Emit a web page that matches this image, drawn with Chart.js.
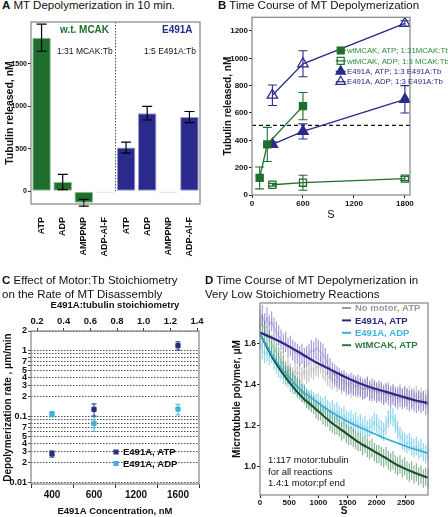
<!DOCTYPE html>
<html>
<head>
<meta charset="utf-8">
<script src="https://cdn.jsdelivr.net/npm/chart.js@4.4.1/dist/chart.umd.min.js"></script>
<style>
  body { margin: 0; width: 448px; height: 517px; position: relative; overflow: hidden; background: #fff;
         font-family: "Liberation Sans", Arial, sans-serif; }
  canvas { position: absolute; }
  .t { position: absolute; white-space: nowrap; color: #111; line-height: 1; z-index: 2; }
</style>
</head>
<body>
<div class="t" style="left:2px;top:0px;font-size:11.5px"><b>A</b> MT Depolymerization in 10 min.</div>
<div class="t" style="left:218px;top:0px;font-size:11.5px"><b>B</b> Time Course of MT Depolymerization</div>
<div class="t" style="left:2px;top:273px;font-size:11.5px;line-height:14px"><b>C</b> Effect of Motor:Tb Stoichiometry<br>on the Rate of MT Disassembly</div>
<div class="t" style="left:205px;top:273px;font-size:11.5px;line-height:14px"><b>D</b> Time Course of MT Depolymerization in<br>Very Low Stoichiometry Reactions</div>

<div class="t" style="left:60px;top:25px;font-size:10px;font-weight:bold;color:#1f6e2d">w.t. MCAK</div>
<div class="t" style="left:162px;top:25px;font-size:10px;font-weight:bold;color:#2a2a8c">E491A</div>
<div class="t" style="left:57px;top:47px;font-size:8.5px">1:31 MCAK:Tb</div>
<div class="t" style="left:144px;top:47px;font-size:8.5px">1:5 E491A:Tb</div>

<div class="t" style="left:268px;top:454px;font-size:9.5px;line-height:11.5px">1:117 motor:tubulin<br>for all reactions<br>1.4:1 motor:pf end</div>

<canvas id="cA" width="206" height="250" style="left:0;top:14px"></canvas>
<canvas id="cB" width="230" height="212" style="left:218px;top:10px"></canvas>
<canvas id="cC" width="206" height="217" style="left:0;top:300px"></canvas>
<canvas id="cD" width="224" height="221" style="left:224px;top:296px"></canvas>

<script>
// ---------- A: tubulin released after 10 min
const catA = ['ATP', 'ADP', 'AMPPNP', 'ADP-Al-F', 'ATP', 'ADP', 'AMPPNP', 'ADP-Al-F'];
const relA = [1810, 110, -135, -15, 515, 920, -15, 875];
const errA = [160, 90, 40, 0, 65, 80, 0, 65];

// ---------- B: time course (s, nM)
const tB_wtATP = [90, 180, 600];
const relB_wtATP = [125, 370, 650];
const errB_wtATP = [80, 125, 100];
const tB_wtADP = [240, 600, 1800];
const relB_wtADP = [75, 90, 120];
const errB_wtADP = [10, 55, 15];
const tB_eATP = [240, 600, 1800];
const relB_eATP = [370, 465, 700];
const errB_eATP = [20, 55, 100];
const tB_eADP = [240, 600, 1800];
const relB_eADP = [730, 960, 1255];
const errB_eADP = [75, 95, 20];
const halfB = 510;

// ---------- C: rate vs concentration (log axis)
const catC = ['400', '600', '1200', '1600'];
const rateATP = [0.0275, 0.13, null, 1.2];
const errRateATP = [0.003, 0.027, null, 0.17];
const rateADP = [0.11, 0.08, null, 0.131];
const errRateADP = [0.01, 0.02, null, 0.024];
const ticksC = [0.01, 0.02, 0.03, 0.04, 0.05, 0.06, 0.07, 0.08, 0.09, 0.1, 0.2, 0.3, 0.4, 0.5, 0.6, 0.7, 0.8, 0.9, 1, 2];
const tickLabC = ['0.01', '2', '3', '4', '5', '', '7', '', '', '0.1', '2', '3', '4', '5', '', '7', '', '', '1', '2'];

// ---------- D: low stoichiometry time course (s, uM)
const tD = [0, 40, 80, 120, 160, 200, 240, 280, 320, 360,
  400, 440, 480, 520, 560, 600, 640, 680, 720, 760,
  800, 840, 880, 920, 960, 1000, 1040, 1080, 1120, 1160,
  1200, 1240, 1280, 1320, 1360, 1400, 1440, 1480, 1520, 1560,
  1600, 1640, 1680, 1720, 1760, 1800, 1840, 1880, 1920, 1960,
  2000, 2040, 2080, 2120, 2160, 2200, 2240, 2280, 2320, 2360,
  2400, 2440, 2480, 2520, 2560, 2600, 2640, 2680, 2720, 2760,
  2800, 2840, 2880];
const noMotor = [null, null, null, null, null, null, null, null, null, null,
  1.47, 1.45, 1.48, 1.46, 1.44, 1.47, 1.45, 1.46, 1.44, 1.47,
  1.45, 1.46, 1.48, 1.47, 1.49, 1.48, 1.50, 1.47, 1.46, 1.44,
  1.43, 1.42, 1.43, 1.41, 1.42, 1.40, 1.41, 1.39, 1.40, 1.38,
  1.39, 1.40, 1.38, 1.39, 1.37, 1.38, 1.39, 1.37, 1.36, 1.38,
  1.37, 1.36, 1.37, 1.35, 1.36, 1.37, 1.35, 1.36, 1.34, 1.35,
  1.36, 1.34, 1.35, 1.34, 1.35, 1.33, 1.34, 1.35, 1.33, 1.34,
  1.32, 1.33, 1.34];
const e491aATP = [1.72, 1.74, 1.70, 1.73, 1.69, 1.71, 1.68, 1.66, 1.64, 1.62,
  1.60, 1.61, 1.58, 1.59, 1.57, 1.56, 1.55, 1.54, 1.55, 1.53,
  1.54, 1.55, 1.57, 1.56, 1.58, 1.57, 1.56, 1.55, 1.53, 1.50,
  1.48, 1.46, 1.45, 1.44, 1.43, 1.42, 1.42, 1.41, 1.40, 1.41,
  1.40, 1.39, 1.40, 1.39, 1.38, 1.38, 1.39, 1.37, 1.38, 1.37,
  1.36, 1.37, 1.36, 1.35, 1.36, 1.35, 1.34, 1.35, 1.34, 1.33,
  1.34, 1.33, 1.34, 1.33, 1.32, 1.33, 1.32, 1.31, 1.32, 1.31,
  1.32, 1.30, 1.31];
const e491aADP = [1.62, 1.57, 1.55, 1.56, 1.54, 1.55, 1.52, 1.50, 1.48, 1.47,
  1.45, 1.44, 1.43, 1.41, 1.40, 1.40, 1.38, 1.37, 1.36, 1.36,
  1.34, 1.33, 1.33, 1.32, 1.31, 1.31, 1.30, 1.29, 1.30, 1.28,
  1.27, 1.28, 1.26, 1.27, 1.25, 1.24, 1.25, 1.23, 1.22, 1.23,
  1.21, 1.22, 1.20, 1.21, 1.19, 1.20, 1.18, 1.19, 1.20, 1.22,
  1.21, 1.19, 1.18, 1.17, 1.20, 1.23, 1.25, 1.24, 1.21, 1.18,
  1.15, 1.13, 1.12, 1.11, 1.12, 1.10, 1.09, 1.10, 1.08, 1.09,
  1.07, 1.06, 1.07];
const wtATP = [1.68, 1.70, 1.66, 1.64, 1.62, 1.60, 1.58, 1.56, 1.54, 1.52,
  1.50, 1.47, 1.45, 1.44, 1.42, 1.40, 1.39, 1.38, 1.36, 1.35,
  1.33, 1.32, 1.31, 1.30, 1.28, 1.27, 1.27, 1.25, 1.24, 1.24,
  1.22, 1.21, 1.20, 1.20, 1.19, 1.17, 1.18, 1.16, 1.15, 1.15,
  1.14, 1.13, 1.12, 1.12, 1.10, 1.11, 1.09, 1.08, 1.09, 1.07,
  1.06, 1.06, 1.05, 1.04, 1.05, 1.03, 1.02, 1.03, 1.01, 1.00,
  1.01, 0.99, 1.00, 0.98, 0.97, 0.98, 0.96, 0.97, 0.95, 0.96,
  0.94, 0.95, 0.94];
const semD = [0.045, 0.05, 0.045, 0.045]; // noMotor, E491A ATP, E491A ADP, wtMCAK

// fitted curves, read at these times
const tFit = [0, 240, 480, 720, 960, 1200, 1440, 1680, 1920, 2160, 2400, 2640, 2880];
const fitE491aATP = [1.655, 1.625, 1.59, 1.55, 1.51, 1.475, 1.44, 1.41, 1.385, 1.365, 1.345, 1.325, 1.31];
const fitE491aADP = [1.65, 1.53, 1.44, 1.37, 1.32, 1.27, 1.23, 1.195, 1.165, 1.135, 1.11, 1.085, 1.065];
const fitWtATP = [1.65, 1.52, 1.42, 1.34, 1.28, 1.22, 1.17, 1.12, 1.08, 1.04, 1.00, 0.97, 0.945];

const FONT = 'Liberation Sans';
Chart.defaults.font.family = FONT;
Chart.defaults.color = '#111';
Chart.defaults.animation = false;

const GREEN = '#1f6e2d';
const NAVY = '#2a2a8c';

const pts = (xs, ys) => xs.map((x, i) => ({ x: x, y: ys[i] }));
const bold = s => ({ family: FONT, size: s, weight: 'bold' });
const plain = v => String(v);

// error bars from ds.err, drawn in z order
const errBars = {
  id: 'errBars',
  beforeDatasetsDraw(chart) { if (!chart.$errAfter) drawErr(chart); },
  afterDatasetsDraw(chart) { if (chart.$errAfter) drawErr(chart); }
};
function drawErr(chart) {
  const ctx = chart.ctx;
  const sets = chart.data.datasets;
  for (let di = sets.length - 1; di >= 0; di--) {
    const ds = sets[di];
    if (ds.err == null) continue;
    const meta = chart.getDatasetMeta(di);
    const ys = chart.scales[meta.yAxisID];
    ctx.save();
    ctx.strokeStyle = ds.errColor;
    ctx.lineWidth = ds.errWidth || 1;
    meta.data.forEach((el, i) => {
      const raw = ds.data[i];
      const v = raw !== null && typeof raw === 'object' ? raw.y : raw;
      const e = Array.isArray(ds.err) ? ds.err[i] : ds.err;
      if (v == null || !e) return;
      const x = el.x, y1 = ys.getPixelForValue(v + e), y2 = ys.getPixelForValue(v - e);
      const c = ds.capW || 0;
      ctx.beginPath();
      ctx.moveTo(x, y1); ctx.lineTo(x, y2);
      if (c) {
        ctx.moveTo(x - c, y1); ctx.lineTo(x + c, y1);
        ctx.moveTo(x - c, y2); ctx.lineTo(x + c, y2);
      }
      ctx.stroke();
    });
    ctx.restore();
  }
}

// grey frame round the plot area
const frame = {
  id: 'frame',
  afterDraw(chart) {
    const { left, top, right, bottom } = chart.chartArea;
    const ctx = chart.ctx;
    ctx.save();
    ctx.strokeStyle = '#8c8c8c';
    ctx.lineWidth = 1.3;
    ctx.strokeRect(left, top, right - left, bottom - top);
    ctx.restore();
  }
};

function mark(ctx, style, x, y, r, fill) {
  ctx.beginPath();
  if (style === 'rect') ctx.rect(x - r, y - r, 2 * r, 2 * r);
  else { ctx.moveTo(x, y - r); ctx.lineTo(x + r * 0.87, y + r * 0.5); ctx.lineTo(x - r * 0.87, y + r * 0.5); ctx.closePath(); }
  if (fill) ctx.fill();
  ctx.stroke();
}

function legendPlugin(cfg) {
  return {
    id: 'lg' + cfg.id,
    afterDraw(chart) {
      const ctx = chart.ctx;
      ctx.save();
      ctx.font = cfg.font;
      ctx.textBaseline = 'middle';
      cfg.items.forEach((it, i) => {
        const y = cfg.y + i * cfg.dy;
        ctx.strokeStyle = it.color;
        ctx.fillStyle = it.color;
        ctx.lineWidth = it.lw || 1.2;
        if (cfg.lineLen) {
          ctx.beginPath();
          ctx.moveTo(cfg.x - cfg.lineLen / 2, y); ctx.lineTo(cfg.x + cfg.lineLen / 2, y);
          ctx.stroke();
        }
        if (it.style) mark(ctx, it.style, cfg.x, y, it.r, it.fill);
        ctx.fillStyle = it.textColor || it.color;
        ctx.fillText(it.text, cfg.tx, y + 0.5);
      });
      ctx.restore();
    }
  };
}

// ================= A =================
const sepA = {
  id: 'sepA',
  afterDatasetsDraw(chart) {
    const xs = chart.scales.x, { top } = chart.chartArea;
    const x = (xs.getPixelForValue(3) + xs.getPixelForValue(4)) / 2;
    const ctx = chart.ctx;
    ctx.save();
    ctx.strokeStyle = '#555';
    ctx.lineWidth = 1;
    ctx.setLineDash([1.5, 1.5]);
    ctx.beginPath(); ctx.moveTo(x, top); ctx.lineTo(x, chart.scales.y.getPixelForValue(0)); ctx.stroke();
    ctx.restore();
  }
};
const chartA = new Chart(document.getElementById('cA'), {
  type: 'bar',
  data: {
    labels: catA,
    datasets: [{
      data: relA, err: errA, errColor: '#000', capW: 5, errWidth: 1.2,
      backgroundColor: catA.map((c, i) => i < 4 ? GREEN : NAVY),
      borderColor: catA.map((c, i) => i < 4 ? '#8fbf97' : '#9a9ad0'),
      borderWidth: 1, borderSkipped: false,
      barPercentage: 0.88, categoryPercentage: 1
    }]
  },
  options: {
    responsive: false, events: [],
    layout: { padding: { top: 8, right: 6, left: 0, bottom: 0 } },
    plugins: { legend: { display: false }, tooltip: { enabled: false } },
    scales: {
      x: {
        grid: { display: false }, border: { display: false },
        ticks: { font: bold(9), maxRotation: 90, minRotation: 90, padding: 5, autoSkip: false },
        afterFit(s) { s.height = 60; }
      },
      y: {
        min: -150, max: 1995,
        afterBuildTicks(s) { s.ticks = [0, 500, 1000, 1500].map(v => ({ value: v })); },
        ticks: { font: bold(7), padding: 1, callback: plain },
        grid: { drawOnChartArea: false, tickLength: 3, color: '#222' },
        border: { display: false },
        title: { display: true, text: 'Tubulin released, nM', font: bold(10.5), padding: { top: 4, bottom: 0 } },
        afterFit(s) { s.width = 31; }
      }
    }
  },
  plugins: [errBars, frame, sepA]
});
chartA.$errAfter = true;
chartA.draw();

// ================= B =================
const halfLine = {
  id: 'halfLine',
  beforeDatasetsDraw(chart) {
    const y = chart.scales.y.getPixelForValue(halfB), { left, right } = chart.chartArea;
    const ctx = chart.ctx;
    ctx.save();
    ctx.strokeStyle = '#111'; ctx.lineWidth = 1.2; ctx.setLineDash([4, 3]);
    ctx.beginPath(); ctx.moveTo(left, y); ctx.lineTo(right, y); ctx.stroke();
    ctx.restore();
  }
};
const lineB = (data, err, color, style, filled, r) => ({
  data: data, err: err, errColor: color, capW: 4.5, errWidth: 1.1,
  showLine: true, borderColor: color, borderWidth: 1.3,
  pointStyle: style, pointRadius: r, pointBorderWidth: 1.3,
  pointBorderColor: color, pointBackgroundColor: filled ? color : 'rgba(255,255,255,0)'
});
new Chart(document.getElementById('cB'), {
  type: 'scatter',
  data: {
    datasets: [
      lineB(pts(tB_wtATP, relB_wtATP), errB_wtATP, GREEN, 'rect', true, 5),
      lineB(pts(tB_wtADP, relB_wtADP), errB_wtADP, GREEN, 'rect', false, 5),
      lineB(pts(tB_eATP, relB_eATP), errB_eATP, NAVY, 'triangle', true, 6),
      lineB(pts(tB_eADP, relB_eADP), errB_eADP, NAVY, 'triangle', false, 6)
    ]
  },
  options: {
    responsive: false, events: [],
    layout: { padding: { top: 5, right: 38, left: 0, bottom: 0 } },
    plugins: { legend: { display: false }, tooltip: { enabled: false } },
    scales: {
      x: {
        min: 0, max: 1860,
        afterBuildTicks(s) { s.ticks = [0, 600, 1200, 1800].map(v => ({ value: v })); },
        ticks: { font: bold(8), padding: 1, callback: plain },
        grid: { drawOnChartArea: false, tickLength: 3, color: '#222' },
        border: { display: false },
        title: { display: true, text: 'S', font: { family: FONT, size: 11 }, padding: { top: 0, bottom: 0 } },
        afterFit(s) { s.height = 27; }
      },
      y: {
        min: 0, max: 1300,
        afterBuildTicks(s) { s.ticks = [0, 200, 400, 600, 800, 1000, 1200].map(v => ({ value: v })); },
        ticks: { font: bold(8), padding: 1, callback: plain },
        grid: { drawOnChartArea: false, tickLength: 3, color: '#222' },
        border: { display: false },
        title: { display: true, text: 'Tubulin released, nM', font: bold(10), padding: { top: 4, bottom: 0 } },
        afterFit(s) { s.width = 34; }
      }
    }
  },
  plugins: [halfLine, errBars, frame, legendPlugin({
    id: 'B', x: 122.7, tx: 129, y: 40.5, dy: 10.4, lineLen: 10, font: '7.8px "Liberation Sans"',
    items: [
      { text: 'wtMCAK, ATP; 1:31MCAK:Tb', color: GREEN, textColor: '#2f8a3c', style: 'rect', r: 3.5, fill: true },
      { text: 'wtMCAK, ADP; 1:3 MCAK:Tb', color: GREEN, textColor: '#2f8a3c', style: 'rect', r: 3.5, fill: false },
      { text: 'E491A, ATP; 1:3 E491A:Tb', color: NAVY, style: 'tri', r: 5.5, fill: true },
      { text: 'E491A, ADP; 1:3 E491A:Tb', color: NAVY, style: 'tri', r: 5.5, fill: false }
    ]
  })]
});

// ================= C =================
const CY_ADP = '#3fb4d8';
const NAVY_C = '#26307f';
new Chart(document.getElementById('cC'), {
  type: 'line',
  data: {
    labels: catC,
    datasets: [
      { data: rateATP, err: errRateATP, errColor: NAVY_C, capW: 2.5, showLine: false,
        pointStyle: 'rect', pointRadius: 3, borderColor: NAVY_C, backgroundColor: NAVY_C },
      { data: rateADP, err: errRateADP, errColor: CY_ADP, capW: 2.5, showLine: false,
        pointStyle: 'rect', pointRadius: 3, borderColor: CY_ADP, backgroundColor: CY_ADP }
    ]
  },
  options: {
    responsive: false, events: [],
    layout: { padding: { top: 0, right: 7, left: 0, bottom: 0 } },
    plugins: { legend: { display: false }, tooltip: { enabled: false } },
    scales: {
      x: {
        offset: true,
        grid: { offset: true, drawOnChartArea: false, tickLength: 4, color: '#333' },
        border: { display: false },
        ticks: { font: bold(10), padding: 1 },
        title: { display: true, text: 'E491A Concentration, nM', font: bold(9.5), padding: { top: 1, bottom: 0 } },
        afterFit(s) { s.height = 33; }
      },
      x2: {
        type: 'linear', position: 'top', min: 0.155, max: 1.415,
        afterBuildTicks(s) { s.ticks = [0.2, 0.4, 0.6, 0.8, 1.0, 1.2, 1.4].map(v => ({ value: v })); },
        ticks: { font: bold(9.5), padding: 1, callback: v => v.toFixed(1) },
        grid: { drawOnChartArea: false, tickLength: 3, color: '#333' },
        border: { display: false },
        title: { display: true, text: 'E491A:tubulin stoichiometry', font: bold(9.5), padding: { top: 0, bottom: 1 } },
        afterFit(s) { s.height = 31; }
      },
      y: {
        type: 'logarithmic', min: 0.0096, max: 2,
        afterBuildTicks(s) { s.ticks = ticksC.map(v => ({ value: v })); },
        ticks: { font: bold(9), padding: 1, autoSkip: false,
          callback: (v, i) => tickLabC[i] },
        grid: { color: '#222', lineWidth: 0.8, tickLength: 3 },
        border: { display: false, dash: [1.5, 1.5] },
        title: { display: true, text: 'Depolymerization rate , \u03bcm/min', font: bold(10), padding: { top: 2, bottom: 0 } },
        afterFit(s) { s.width = 31; }
      }
    }
  },
  plugins: [errBars, frame, legendPlugin({
    id: 'C', x: 116, tx: 123, y: 152, dy: 11.5, lineLen: 0, font: 'bold 9.5px "Liberation Sans"',
    items: [
      { text: 'E491A, ATP', color: NAVY_C, textColor: '#111', style: 'rect', r: 2, fill: true },
      { text: 'E491A, ADP', color: CY_ADP, textColor: '#111', style: 'rect', r: 2, fill: true }
    ]
  })]
});

// ================= D =================
const fitLine = (xs, ys, color, w) => ({
  data: pts(xs, ys), showLine: true, borderColor: color, borderWidth: w,
  pointRadius: 0, tension: 0.4, cubicInterpolationMode: 'monotone'
});
const dataLine = (ys, err, color, barColor) => ({
  data: pts(tD, ys), err: err, errColor: barColor, errWidth: 1.1,
  showLine: true, borderColor: color, borderWidth: 0.6, pointRadius: 0, spanGaps: false
});
new Chart(document.getElementById('cD'), {
  type: 'scatter',
  data: {
    datasets: [
      fitLine(tFit, fitE491aATP, '#2b2783', 2.2),
      fitLine(tFit, fitE491aADP, '#33acd6', 1.6),
      fitLine(tFit, fitWtATP, '#1d4d2c', 2),
      dataLine(wtATP, semD[3], 'rgba(60,130,80,0.6)', 'rgba(80,150,100,0.75)'),
      dataLine(e491aADP, semD[2], 'rgba(60,170,215,0.6)', 'rgba(90,195,230,0.75)'),
      dataLine(e491aATP, semD[1], 'rgba(90,75,180,0.6)', 'rgba(120,105,200,0.7)'),
      dataLine(noMotor, semD[0], 'rgba(150,150,150,0.6)', 'rgba(175,175,175,0.8)')
    ]
  },
  options: {
    responsive: false, events: [],
    layout: { padding: { top: 7, right: 20, left: 0, bottom: 0 } },
    plugins: { legend: { display: false }, tooltip: { enabled: false } },
    scales: {
      x: {
        min: 0, max: 2880,
        afterBuildTicks(s) { s.ticks = [0, 500, 1000, 1500, 2000, 2500].map(v => ({ value: v })); },
        ticks: { font: bold(8), padding: 0, callback: plain },
        grid: { drawOnChartArea: false, tickLength: 3, color: '#222' },
        border: { display: false },
        title: { display: true, text: 'S', font: bold(10), padding: { top: 0, bottom: 0 } },
        afterFit(s) { s.height = 22; }
      },
      y: {
        min: 0.86, max: 1.80,
        afterBuildTicks(s) { s.ticks = [1.0, 1.2, 1.4, 1.6].map(v => ({ value: v })); },
        ticks: { font: bold(8.5), padding: 1, callback: v => v.toFixed(1) },
        grid: { drawOnChartArea: false, tickLength: 3, color: '#222' },
        border: { display: false },
        title: { display: true, text: 'Microtubule polymer, \u03bcM', font: bold(10), padding: { top: 7, bottom: 0 } },
        afterFit(s) { s.width = 36; }
      }
    }
  },
  plugins: [errBars, frame, legendPlugin({
    id: 'D', x: 122.5, tx: 131, y: 12, dy: 12.4, lineLen: 9, font: 'bold 9.5px "Liberation Sans"',
    items: [
      { text: 'No motor, ATP', color: '#9a9a9a', lw: 2 },
      { text: 'E491A, ATP', color: '#2b2783', lw: 2 },
      { text: 'E491A, ADP', color: '#3ab4dc', lw: 2 },
      { text: 'wtMCAK, ATP', color: '#2a7a3a', lw: 2 }
    ]
  })]
});
</script>
</body>
</html>
